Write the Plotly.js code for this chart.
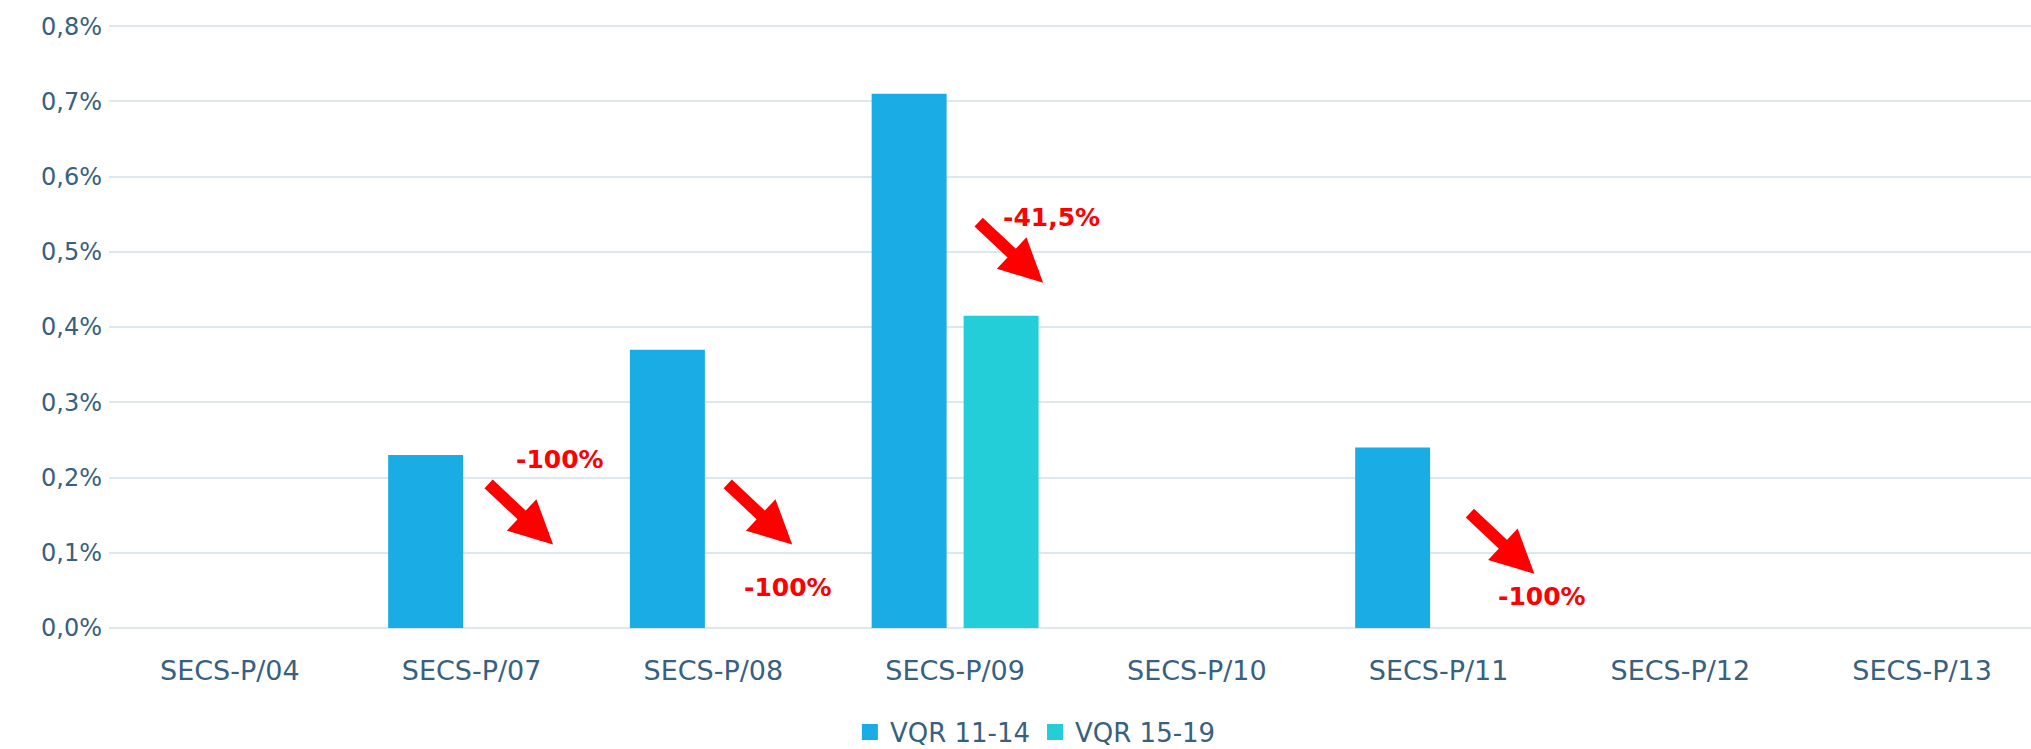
<!DOCTYPE html>
<html>
<head>
<meta charset="utf-8">
<script src="https://cdn.plot.ly/plotly-3.0.1.min.js"></script>
<style>
html,body{margin:0;padding:0;overflow:hidden;background:#fff;}
#chart{width:2046px;height:770px;}
</style>
</head>
<body>
<div id="chart"></div>
<script>
const categories = ['SECS-P/04','SECS-P/07','SECS-P/08','SECS-P/09','SECS-P/10','SECS-P/11','SECS-P/12','SECS-P/13'];
const vqr1114 = [0, 0.23, 0.37, 0.71, 0, 0.24, 0, 0];
const vqr1519 = [0, 0, 0, 0.415, 0, 0, 0, 0];
const seriesNames = ['VQR 11-14', 'VQR 15-19'];
const seriesColors = ['#1AACE4', '#24CED8'];
const changeLabels = ['-100%', '-100%', '-41,5%', '-100%'];
const changeCats = [1, 2, 3, 5];

const textColor = '#38607F';
const fontFam = 'DejaVu Sans, sans-serif';

const traces = [
  {type:'bar', name:seriesNames[0], x:categories, y:vqr1114,
   marker:{color:seriesColors[0]}, hoverinfo:'skip', showlegend:false},
  {type:'bar', name:seriesNames[1], x:categories, y:vqr1519,
   marker:{color:seriesColors[1]}, hoverinfo:'skip', showlegend:false},
  // legend entries with larger square swatches
  {type:'scatter', mode:'markers', name:seriesNames[0], x:[null], y:[null],
   marker:{symbol:'square', size:19, color:seriesColors[0]}, hoverinfo:'skip'},
  {type:'scatter', mode:'markers', name:seriesNames[1], x:[null], y:[null],
   marker:{symbol:'square', size:19, color:seriesColors[1]}, hoverinfo:'skip'}
];

// arrow tips & text positions (offsets around the category centre)
const arrowDx = [0.337, 0.326, 0.364, 0.396];
const arrowY  = [0.111, 0.111, 0.459, 0.072];
const textDx  = [0.366, 0.309, 0.40, 0.429];
const textY   = [0.224, 0.054, 0.546, 0.042];

const annotations = [];
changeCats.forEach((c, i) => {
  annotations.push({
    x: c + arrowDx[i], y: arrowY[i], xref:'x', yref:'y',
    ax: -66, ay: -62, axref:'pixel', ayref:'pixel',
    showarrow:true, arrowhead:2, arrowsize:0.72, arrowwidth:12,
    arrowcolor:'#FF0000', text:''
  });
  annotations.push({
    x: c + textDx[i], y: textY[i], xref:'x', yref:'y',
    showarrow:false, text: changeLabels[i],
    font:{family:fontFam, size:25, color:'#FF0000', weight:'bold'}
  });
});

const layout = {
  width: 2046, height: 770,
  margin:{l:109, r:3, t:25, b:142},
  paper_bgcolor:'#fff', plot_bgcolor:'#fff',
  barmode:'group', bargap:0.239, bargroupgap:0.185,
  font:{family:fontFam, color:textColor, size:26},
  xaxis:{type:'category', showgrid:false, zeroline:false, showline:false,
         ticks:'', tickfont:{size:27, color:textColor}, fixedrange:true,
         ticklabelstandoff:24},
  yaxis:{range:[0,0.8015], dtick:0.1, tickformat:'.1f', ticksuffix:'%',
         gridcolor:'#DDE7EF', gridwidth:2, zeroline:true, zerolinecolor:'#DDE7EF', zerolinewidth:2,
         showline:false, ticks:'', tickfont:{size:24, color:textColor}, fixedrange:true,
         ticklabelstandoff:6},
  separators:',.',
  showlegend:true,
  legend:{orientation:'h', x:0.479, xanchor:'center', y:-0.1725, yanchor:'middle',
          font:{size:26, color:textColor}, traceorder:'normal', itemsizing:'trace'},
  annotations: annotations
};

Plotly.newPlot('chart', traces, layout, {displayModeBar:false, staticPlot:true});
</script>
</body>
</html>
